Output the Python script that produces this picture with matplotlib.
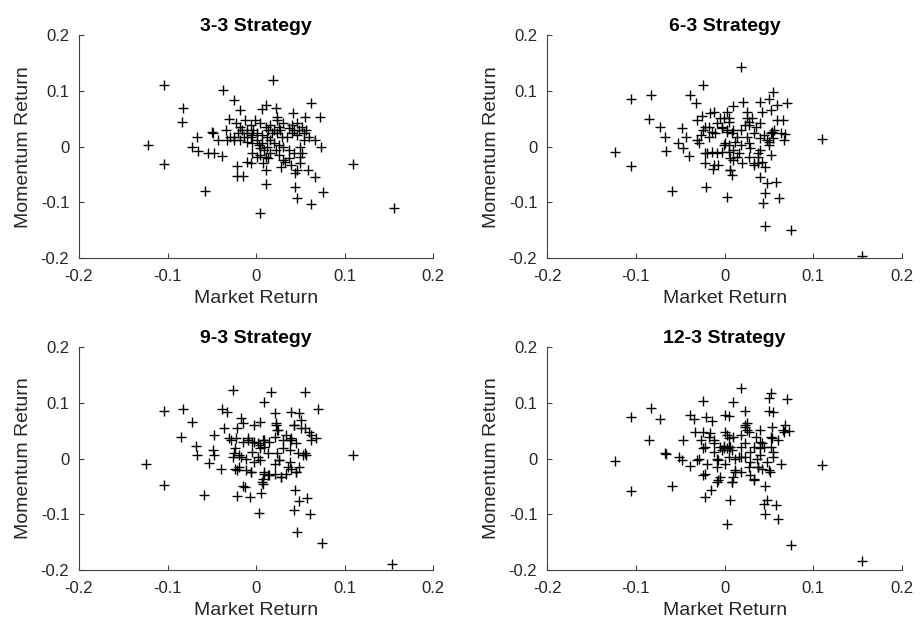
import matplotlib
matplotlib.use("Agg")
import matplotlib.pyplot as plt

plt.rcParams['font.family'] = ['Liberation Sans', 'DejaVu Sans']

titles = ["3-3 Strategy", "6-3 Strategy", "9-3 Strategy", "12-3 Strategy"]
x_label = "Market Return"
y_label = "Momentum Return"
ticks = [-0.2, -0.1, 0, 0.1, 0.2]
tick_labels = ["-0.2", "-0.1", "0", "0.1", "0.2"]

# ---- 3-3 strategy ----
mkt_33 = [-0.104, -0.122, -0.104, -0.082, -0.084, -0.058, -0.037, 0.019, -0.025, 0.062,
          0.110, 0.156, 0.004, 0.062, 0.076, 0.046, 0.044, 0.011, 0.067, 0.059,
          0.044, -0.021, -0.021, -0.015, -0.006, 0.008, 0.011, 0.028, 0.073, 0.072,
          0.055, 0.042, 0.023, 0.011, 0.007, -0.018, -0.030, -0.067, -0.072, -0.066,
          -0.054, -0.048, -0.039, -0.050, -0.049, -0.043, -0.034, -0.025,
          -0.023, -0.018, -0.012, -0.006, -0.001, 0.005, 0.011, 0.016, 0.024, 0.026,
          0.027, 0.031, 0.037, 0.041, 0.046, 0.052, 0.056, 0.060, 0.067, 0.054,
          0.050, 0.052, 0.050, 0.043, 0.037, 0.033, 0.039, 0.031, 0.026, 0.022,
          0.016, 0.014, 0.009, 0.005, 0.003, 0.007, 0.001, -0.005, -0.010, -0.014,
          -0.020, -0.025, -0.029, -0.018, -0.010, -0.005, 0.001, 0.007, 0.012, 0.018,
          0.024, 0.029, 0.035, 0.041, 0.046, 0.054, 0.024, 0.020, 0.014, -0.003,
          -0.010, -0.016, 0.016, 0.012, 0.046, 0.050, 0.037, 0.031, 0.026, 0.001,
          -0.005, -0.010, 0.020, 0.011, 0.005, -0.006, -0.033, 0.043, 0.048]
mom_33 = [0.111, 0.003, -0.032, 0.070, 0.045, -0.080, 0.102, 0.119, 0.084, 0.078,
          -0.032, -0.111, -0.120, -0.103, -0.081, -0.093, -0.072, -0.067, -0.054, -0.042,
          -0.048, -0.035, -0.053, -0.053, -0.030, -0.029, -0.042, -0.036, -0.001, 0.053,
          0.053, 0.060, 0.069, 0.075, 0.067, 0.066, 0.049, 0.017, 0.000, -0.007,
          -0.011, -0.011, -0.017, 0.027, 0.024, 0.012, 0.030, 0.018,
          0.042, 0.036, 0.048, 0.039, 0.048, 0.042, 0.036, 0.039, 0.048, 0.036,
          0.030, 0.042, 0.033, 0.039, 0.042, 0.036, 0.030, 0.018, 0.012, 0.012,
          0.000, -0.012, -0.018, -0.012, -0.021, -0.027, -0.033, -0.024, -0.015, -0.006,
          -0.012, -0.021, -0.006, -0.003, 0.003, 0.006, 0.012, 0.006, 0.009, 0.018,
          0.024, 0.012, 0.018, 0.012, 0.024, 0.021, 0.024, 0.021, 0.018, 0.024,
          0.024, 0.018, 0.018, 0.024, 0.021, 0.024, 0.054, 0.030, 0.030, 0.030,
          0.030, 0.030, 0.012, 0.000, -0.042, -0.030, -0.006, 0.000, 0.003, -0.018,
          -0.012, -0.027, 0.006, -0.018, -0.015, 0.018, 0.012, 0.030, 0.030]

# ---- 6-3 strategy ----
mkt_63 = [0.018, -0.024, -0.105, -0.083, -0.039, -0.032, -0.085, -0.073, -0.067, -0.066,
          -0.123, -0.105, -0.059, -0.021, 0.003, 0.046, 0.075, 0.155, 0.110, 0.054,
          0.050, 0.040, 0.021, 0.009, 0.059, 0.070, 0.052, 0.042, 0.059, 0.066,
          0.068, 0.067, 0.058, 0.061, 0.043, 0.045, 0.040, 0.048, 0.045, 0.042,
          0.038, 0.033, 0.020, 0.008, 0.006, -0.007, -0.013, -0.022, -0.022, -0.040,
          -0.047, -0.052, -0.048, -0.044, -0.029, -0.031, -0.026, -0.016, -0.012, 0.003,
          -0.001, 0.005, 0.025, 0.027, 0.023, 0.018, 0.003, -0.003, -0.009, -0.018,
          -0.024, -0.027, -0.018, -0.011, 0.008, 0.014, 0.025, 0.033, 0.040, 0.048,
          0.052, 0.056, 0.040, 0.035, 0.050, 0.052, 0.038, 0.029, 0.027, 0.018,
          0.010, 0.005, 0.001, -0.003, -0.009, -0.014, -0.020, 0.014, 0.010, 0.006,
          0.027, 0.040, -0.031,
          -0.005, 0.005, -0.003, 0.003, 0.010, -0.014, -0.022, 0.025, 0.031, 0.027,
          0.044, 0.053, 0.050, 0.055, 0.063, 0.012, -0.001, 0.016, 0.005, 0.038,
          -0.012, 0.033, 0.006]
mom_63 = [0.143, 0.111, 0.086, 0.092, 0.093, 0.079, 0.049, 0.035, 0.018, -0.007,
          -0.009, -0.035, -0.080, -0.072, -0.091, -0.143, -0.150, -0.196, 0.013, 0.099,
          0.086, 0.081, 0.081, 0.073, 0.075, 0.078, 0.066, 0.063, 0.048, 0.047,
          0.023, 0.012, -0.063, -0.093, -0.101, -0.083, -0.054, -0.066, -0.037, -0.027,
          -0.030, -0.030, -0.030, -0.051, -0.042, -0.033, -0.041, -0.029, -0.011, -0.017,
          -0.003, 0.006, 0.033, 0.018, 0.006, 0.048, 0.055, 0.060, 0.063, 0.063,
          0.051, 0.051, 0.051, 0.045, 0.039, 0.030, 0.030, 0.036, 0.042, 0.036,
          0.030, 0.021, 0.018, 0.024, 0.024, 0.018, 0.018, 0.024, 0.015, 0.012,
          0.024, 0.030, 0.042, 0.036, 0.003, -0.015, -0.012, -0.003, 0.006, 0.003,
          -0.006, 0.003, 0.006, -0.009, -0.012, -0.009, -0.012, -0.018, -0.024, -0.021,
          -0.018, -0.006, 0.012,
          0.051, 0.045, 0.033, 0.027, 0.030, 0.027, 0.036, 0.063, 0.051, 0.039,
          0.021, 0.027, 0.009, 0.015, 0.024, 0.009, 0.003, -0.012, -0.009, -0.018,
          -0.033, -0.033, -0.042]

# ---- 9-3 strategy ----
mkt_93 = [-0.026, 0.017, 0.055, 0.009, -0.104, -0.083, -0.072, -0.038, -0.033, 0.070,
          -0.085, -0.068, -0.067, -0.049, -0.047, -0.053, -0.040, -0.124, -0.104, -0.059,
          -0.015, -0.021, -0.007, 0.003, 0.006, 0.008, 0.044, 0.048, 0.043, 0.058,
          0.061, 0.046, 0.075, 0.154, 0.109, -0.047, -0.036, -0.030, -0.017, -0.015,
          -0.021, -0.002, 0.004, 0.021, 0.023, 0.025, 0.040, 0.048, 0.043, 0.051,
          0.055, 0.060, 0.068, 0.062, 0.040, 0.034, 0.030, 0.021, 0.015, 0.008,
          0.002, -0.004, -0.009, -0.015, -0.023, -0.028, -0.024, -0.019, -0.026, -0.011,
          -0.004, 0.004, 0.009, 0.013, 0.004, -0.002, -0.011, -0.019, -0.024, -0.006,
          0.009, 0.015, 0.021, 0.028, 0.034, 0.040, 0.045, 0.049, 0.053, 0.056,
          0.047, 0.038, 0.030, 0.024, 0.026, 0.021, 0.038, 0.038, 0.008, 0.013,
          0.023, 0.024, 0.043, 0.051, 0.062, -0.002, 0.004, 0.009, -0.009, 0.040,
          0.045, 0.055, -0.025, -0.017, 0.002, 0.026, 0.036, 0.045, 0.009, -0.006,
          -0.021, 0.028, 0.007, -0.013]
mom_93 = [0.122, 0.120, 0.119, 0.101, 0.085, 0.089, 0.066, 0.089, 0.084, 0.089,
          0.039, 0.022, 0.006, 0.015, 0.006, -0.008, -0.019, -0.009, -0.048, -0.066,
          -0.050, -0.067, -0.069, -0.097, -0.061, -0.045, -0.057, -0.077, -0.092, -0.070,
          -0.099, -0.131, -0.151, -0.190, 0.007, 0.042, 0.054, 0.036, 0.072, 0.063,
          0.054, 0.060, 0.066, 0.081, 0.063, 0.051, 0.083, 0.081, 0.060, 0.069,
          0.054, 0.048, 0.036, 0.033, 0.036, 0.042, 0.033, 0.039, 0.030, 0.033,
          0.027, 0.030, 0.033, 0.030, 0.036, 0.033, 0.018, 0.006, 0.003, 0.000,
          0.012, 0.018, 0.021, 0.009, -0.003, -0.006, -0.021, -0.015, -0.018, -0.024,
          -0.027, -0.030, -0.027, -0.033, -0.027, -0.018, -0.024, -0.015, 0.006, 0.006,
          0.009, 0.015, 0.018, 0.009, -0.003, -0.009, -0.006, 0.033, -0.036, -0.030,
          0.060, 0.051, 0.060, 0.054, 0.042, 0.030, 0.024, 0.033, 0.036, 0.033,
          0.027, 0.009, 0.009, 0.003, 0.003, -0.003, -0.015, -0.024, -0.024, -0.024,
          -0.021, -0.033, -0.042, -0.051]

# ---- 12-3 strategy ----
mkt_123 = [0.018, 0.052, 0.050, 0.070, -0.024, 0.009, -0.083, -0.105, -0.073, -0.085,
           -0.067, -0.066, -0.123, -0.105, -0.059, -0.051, -0.048, -0.039, -0.047, -0.039,
           -0.034, -0.021, -0.014, 0.001, 0.005, 0.023, 0.050, 0.055, 0.068, 0.072,
           0.066, 0.053, 0.052, 0.060, 0.055, 0.063, 0.051, 0.045, 0.048, 0.044,
           0.046, 0.058, 0.060, 0.006, 0.003, 0.075, 0.155, 0.110, -0.022, -0.015,
           -0.008, -0.005, 0.008, 0.010, -0.024, -0.020, -0.031, -0.009, 0.001, 0.012,
           0.018, 0.029, 0.033, 0.027, 0.038, 0.042, 0.036, 0.018, 0.012, -0.005,
           -0.001, 0.003, 0.006, -0.003, -0.012, -0.012, -0.018, -0.024, -0.027, -0.033,
           -0.024, -0.016, 0.001, 0.005, 0.010, 0.018, 0.023, 0.025, 0.027, 0.035,
           0.040, 0.042, 0.040, 0.033, 0.023, 0.018, 0.052, 0.055, 0.048, 0.040,
           0.029, 0.023, 0.005, -0.009,
           0.003, 0.005, -0.001, 0.008, 0.023, 0.025, 0.040, 0.044, 0.053, 0.067,
           -0.022, -0.012, -0.029, -0.007, 0.016, 0.029, 0.038, 0.050, 0.012, -0.007,
           0.008, 0.033, -0.022]
mom_123 = [0.126, 0.117, 0.108, 0.106, 0.104, 0.101, 0.090, 0.074, 0.070, 0.033,
           0.010, 0.008, -0.004, -0.058, -0.050, 0.003, -0.003, -0.014, 0.033, 0.078,
           0.070, 0.074, 0.067, 0.078, 0.076, 0.086, 0.086, 0.083, 0.060, 0.049,
           0.051, 0.057, 0.039, 0.034, 0.012, -0.010, -0.024, -0.050, -0.074, -0.082,
           -0.099, -0.084, -0.108, -0.075, -0.117, -0.156, -0.184, -0.011, -0.069, -0.057,
           -0.042, -0.033, -0.042, -0.033, -0.030, -0.009, -0.003, -0.015, -0.009, -0.021,
           -0.024, -0.030, -0.036, -0.015, -0.015, -0.018, 0.000, 0.003, 0.000, 0.020,
           0.022, 0.018, 0.021, 0.015, 0.012, 0.033, 0.039, 0.018, 0.033, 0.048,
           0.048, 0.045, 0.048, 0.036, 0.039, 0.042, 0.057, 0.063, 0.048, 0.039,
           0.051, 0.027, 0.018, 0.021, 0.027, 0.021, 0.021, 0.003, -0.006, 0.006,
           0.012, 0.003, 0.003, 0.000,
           0.042, 0.021, 0.018, 0.015, 0.060, 0.051, 0.030, 0.021, 0.036, 0.048,
           0.021, 0.027, 0.000, -0.003, 0.003, -0.006, -0.015, -0.021, -0.024, -0.039,
           -0.042, -0.039, -0.027]

series = [(mkt_33, mom_33), (mkt_63, mom_63), (mkt_93, mom_93), (mkt_123, mom_123)]

fig = plt.figure(figsize=(9.21, 6.30), dpi=100)
positions = [
    [0.0858, 0.5905, 0.3844, 0.3535],
    [0.5940, 0.5905, 0.3855, 0.3535],
    [0.0858, 0.0952, 0.3844, 0.3540],
    [0.5940, 0.0952, 0.3855, 0.3540],
]
axis_grey = '#404040'
text_grey = '#262626'
for pos, (xs, ys), title in zip(positions, series, titles):
    ax = fig.add_axes(pos)
    ax.plot(xs, ys, linestyle='none', marker='+', color='black',
            markersize=7.5, markeredgewidth=1.0)
    ax.set_xlim(-0.2, 0.2)
    ax.set_ylim(-0.2, 0.2)
    ax.set_xticks(ticks)
    ax.set_xticklabels(tick_labels)
    ax.set_yticks(ticks)
    ax.set_yticklabels(tick_labels)
    for s in ['top', 'right']:
        ax.spines[s].set_visible(False)
    for s in ['left', 'bottom']:
        ax.spines[s].set_color(axis_grey)
        ax.spines[s].set_linewidth(0.8)
    ax.tick_params(direction='in', length=3.5, width=0.8, color=axis_grey,
                   labelsize=12, labelcolor=text_grey)
    ax.tick_params(axis='x', pad=8)
    ax.tick_params(axis='y', pad=7)
    ax.set_xlabel(x_label, fontsize=14, color=text_grey, labelpad=4)
    ax.set_ylabel(y_label, fontsize=14, color=text_grey, labelpad=6)
    ax.set_title(title, fontsize=14, fontweight='bold', color='black', pad=3)

fig.savefig('out.png', dpi=100)
